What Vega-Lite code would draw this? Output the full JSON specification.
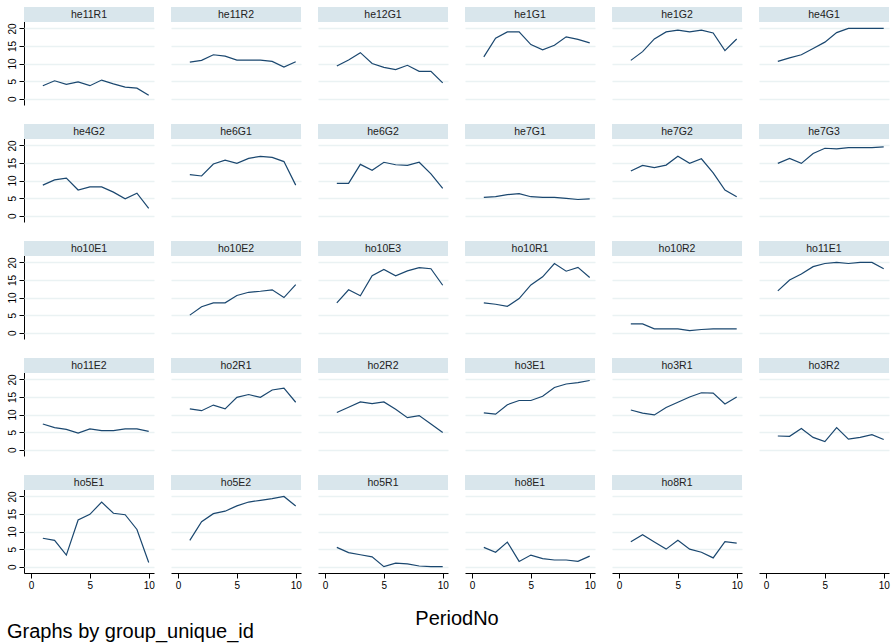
{
  "$schema": "https://vega.github.io/schema/vega-lite/v6.json",
  "background": "white",
  "padding": {"left": 7, "top": 7, "right": 2, "bottom": 2},
  "autosize": {"type": "pad"},
  "data": {"values": [
    {"group":"he11R1","PeriodNo":1,"value":3.7},{"group":"he11R1","PeriodNo":2,"value":5.1},{"group":"he11R1","PeriodNo":3,"value":4.1},{"group":"he11R1","PeriodNo":4,"value":4.8},{"group":"he11R1","PeriodNo":5,"value":3.7},{"group":"he11R1","PeriodNo":6,"value":5.3},{"group":"he11R1","PeriodNo":7,"value":4.2},{"group":"he11R1","PeriodNo":8,"value":3.3},{"group":"he11R1","PeriodNo":9,"value":3.0},{"group":"he11R1","PeriodNo":10,"value":1.0},
    {"group":"he11R2","PeriodNo":1,"value":10.4},{"group":"he11R2","PeriodNo":2,"value":10.9},{"group":"he11R2","PeriodNo":3,"value":12.5},{"group":"he11R2","PeriodNo":4,"value":12.1},{"group":"he11R2","PeriodNo":5,"value":11.0},{"group":"he11R2","PeriodNo":6,"value":11.0},{"group":"he11R2","PeriodNo":7,"value":11.0},{"group":"he11R2","PeriodNo":8,"value":10.6},{"group":"he11R2","PeriodNo":9,"value":9.0},{"group":"he11R2","PeriodNo":10,"value":10.5},
    {"group":"he12G1","PeriodNo":1,"value":9.3},{"group":"he12G1","PeriodNo":2,"value":11.0},{"group":"he12G1","PeriodNo":3,"value":13.1},{"group":"he12G1","PeriodNo":4,"value":10.0},{"group":"he12G1","PeriodNo":5,"value":8.9},{"group":"he12G1","PeriodNo":6,"value":8.3},{"group":"he12G1","PeriodNo":7,"value":9.5},{"group":"he12G1","PeriodNo":8,"value":7.8},{"group":"he12G1","PeriodNo":9,"value":7.8},{"group":"he12G1","PeriodNo":10,"value":4.5},
    {"group":"he1G1","PeriodNo":1,"value":11.9},{"group":"he1G1","PeriodNo":2,"value":17.2},{"group":"he1G1","PeriodNo":3,"value":19.0},{"group":"he1G1","PeriodNo":4,"value":19.0},{"group":"he1G1","PeriodNo":5,"value":15.4},{"group":"he1G1","PeriodNo":6,"value":13.9},{"group":"he1G1","PeriodNo":7,"value":15.2},{"group":"he1G1","PeriodNo":8,"value":17.6},{"group":"he1G1","PeriodNo":9,"value":16.9},{"group":"he1G1","PeriodNo":10,"value":15.9},
    {"group":"he1G2","PeriodNo":1,"value":10.9},{"group":"he1G2","PeriodNo":2,"value":13.4},{"group":"he1G2","PeriodNo":3,"value":17.0},{"group":"he1G2","PeriodNo":4,"value":19.0},{"group":"he1G2","PeriodNo":5,"value":19.5},{"group":"he1G2","PeriodNo":6,"value":19.0},{"group":"he1G2","PeriodNo":7,"value":19.5},{"group":"he1G2","PeriodNo":8,"value":18.7},{"group":"he1G2","PeriodNo":9,"value":13.7},{"group":"he1G2","PeriodNo":10,"value":17.0},
    {"group":"he4G1","PeriodNo":1,"value":10.6},{"group":"he4G1","PeriodNo":2,"value":11.6},{"group":"he4G1","PeriodNo":3,"value":12.5},{"group":"he4G1","PeriodNo":4,"value":14.3},{"group":"he4G1","PeriodNo":5,"value":16.1},{"group":"he4G1","PeriodNo":6,"value":18.8},{"group":"he4G1","PeriodNo":7,"value":20.0},{"group":"he4G1","PeriodNo":8,"value":20.0},{"group":"he4G1","PeriodNo":9,"value":20.0},{"group":"he4G1","PeriodNo":10,"value":20.0},
    {"group":"he4G2","PeriodNo":1,"value":8.7},{"group":"he4G2","PeriodNo":2,"value":10.2},{"group":"he4G2","PeriodNo":3,"value":10.7},{"group":"he4G2","PeriodNo":4,"value":7.3},{"group":"he4G2","PeriodNo":5,"value":8.2},{"group":"he4G2","PeriodNo":6,"value":8.2},{"group":"he4G2","PeriodNo":7,"value":6.7},{"group":"he4G2","PeriodNo":8,"value":4.8},{"group":"he4G2","PeriodNo":9,"value":6.4},{"group":"he4G2","PeriodNo":10,"value":2.1},
    {"group":"he6G1","PeriodNo":1,"value":11.7},{"group":"he6G1","PeriodNo":2,"value":11.3},{"group":"he6G1","PeriodNo":3,"value":14.7},{"group":"he6G1","PeriodNo":4,"value":15.8},{"group":"he6G1","PeriodNo":5,"value":14.9},{"group":"he6G1","PeriodNo":6,"value":16.3},{"group":"he6G1","PeriodNo":7,"value":16.9},{"group":"he6G1","PeriodNo":8,"value":16.6},{"group":"he6G1","PeriodNo":9,"value":15.4},{"group":"he6G1","PeriodNo":10,"value":8.7},
    {"group":"he6G2","PeriodNo":1,"value":9.2},{"group":"he6G2","PeriodNo":2,"value":9.2},{"group":"he6G2","PeriodNo":3,"value":14.6},{"group":"he6G2","PeriodNo":4,"value":12.9},{"group":"he6G2","PeriodNo":5,"value":15.2},{"group":"he6G2","PeriodNo":6,"value":14.5},{"group":"he6G2","PeriodNo":7,"value":14.3},{"group":"he6G2","PeriodNo":8,"value":15.2},{"group":"he6G2","PeriodNo":9,"value":11.9},{"group":"he6G2","PeriodNo":10,"value":7.8},
    {"group":"he7G1","PeriodNo":1,"value":5.2},{"group":"he7G1","PeriodNo":2,"value":5.4},{"group":"he7G1","PeriodNo":3,"value":6.0},{"group":"he7G1","PeriodNo":4,"value":6.3},{"group":"he7G1","PeriodNo":5,"value":5.4},{"group":"he7G1","PeriodNo":6,"value":5.2},{"group":"he7G1","PeriodNo":7,"value":5.2},{"group":"he7G1","PeriodNo":8,"value":4.9},{"group":"he7G1","PeriodNo":9,"value":4.6},{"group":"he7G1","PeriodNo":10,"value":4.8},
    {"group":"he7G2","PeriodNo":1,"value":12.7},{"group":"he7G2","PeriodNo":2,"value":14.3},{"group":"he7G2","PeriodNo":3,"value":13.7},{"group":"he7G2","PeriodNo":4,"value":14.4},{"group":"he7G2","PeriodNo":5,"value":16.9},{"group":"he7G2","PeriodNo":6,"value":14.9},{"group":"he7G2","PeriodNo":7,"value":16.2},{"group":"he7G2","PeriodNo":8,"value":12.2},{"group":"he7G2","PeriodNo":9,"value":7.3},{"group":"he7G2","PeriodNo":10,"value":5.4},
    {"group":"he7G3","PeriodNo":1,"value":14.9},{"group":"he7G3","PeriodNo":2,"value":16.3},{"group":"he7G3","PeriodNo":3,"value":14.9},{"group":"he7G3","PeriodNo":4,"value":17.7},{"group":"he7G3","PeriodNo":5,"value":19.2},{"group":"he7G3","PeriodNo":6,"value":19.0},{"group":"he7G3","PeriodNo":7,"value":19.4},{"group":"he7G3","PeriodNo":8,"value":19.4},{"group":"he7G3","PeriodNo":9,"value":19.4},{"group":"he7G3","PeriodNo":10,"value":19.6},
    {"group":"ho10E1","PeriodNo":null,"value":null},
    {"group":"ho10E2","PeriodNo":1,"value":5.0},{"group":"ho10E2","PeriodNo":2,"value":7.4},{"group":"ho10E2","PeriodNo":3,"value":8.5},{"group":"ho10E2","PeriodNo":4,"value":8.5},{"group":"ho10E2","PeriodNo":5,"value":10.6},{"group":"ho10E2","PeriodNo":6,"value":11.5},{"group":"ho10E2","PeriodNo":7,"value":11.8},{"group":"ho10E2","PeriodNo":8,"value":12.2},{"group":"ho10E2","PeriodNo":9,"value":10.0},{"group":"ho10E2","PeriodNo":10,"value":13.7},
    {"group":"ho10E3","PeriodNo":1,"value":8.5},{"group":"ho10E3","PeriodNo":2,"value":12.2},{"group":"ho10E3","PeriodNo":3,"value":10.5},{"group":"ho10E3","PeriodNo":4,"value":16.2},{"group":"ho10E3","PeriodNo":5,"value":18.0},{"group":"ho10E3","PeriodNo":6,"value":16.2},{"group":"ho10E3","PeriodNo":7,"value":17.6},{"group":"ho10E3","PeriodNo":8,"value":18.5},{"group":"ho10E3","PeriodNo":9,"value":18.2},{"group":"ho10E3","PeriodNo":10,"value":13.5},
    {"group":"ho10R1","PeriodNo":1,"value":8.5},{"group":"ho10R1","PeriodNo":2,"value":8.1},{"group":"ho10R1","PeriodNo":3,"value":7.5},{"group":"ho10R1","PeriodNo":4,"value":9.7},{"group":"ho10R1","PeriodNo":5,"value":13.6},{"group":"ho10R1","PeriodNo":6,"value":15.9},{"group":"ho10R1","PeriodNo":7,"value":19.7},{"group":"ho10R1","PeriodNo":8,"value":17.5},{"group":"ho10R1","PeriodNo":9,"value":18.6},{"group":"ho10R1","PeriodNo":10,"value":15.7},
    {"group":"ho10R2","PeriodNo":1,"value":2.5},{"group":"ho10R2","PeriodNo":2,"value":2.5},{"group":"ho10R2","PeriodNo":3,"value":1.1},{"group":"ho10R2","PeriodNo":4,"value":1.1},{"group":"ho10R2","PeriodNo":5,"value":1.1},{"group":"ho10R2","PeriodNo":6,"value":0.6},{"group":"ho10R2","PeriodNo":7,"value":0.9},{"group":"ho10R2","PeriodNo":8,"value":1.1},{"group":"ho10R2","PeriodNo":9,"value":1.1},{"group":"ho10R2","PeriodNo":10,"value":1.1},
    {"group":"ho11E1","PeriodNo":1,"value":11.9},{"group":"ho11E1","PeriodNo":2,"value":15.0},{"group":"ho11E1","PeriodNo":3,"value":16.7},{"group":"ho11E1","PeriodNo":4,"value":18.8},{"group":"ho11E1","PeriodNo":5,"value":19.7},{"group":"ho11E1","PeriodNo":6,"value":20.0},{"group":"ho11E1","PeriodNo":7,"value":19.7},{"group":"ho11E1","PeriodNo":8,"value":20.0},{"group":"ho11E1","PeriodNo":9,"value":20.0},{"group":"ho11E1","PeriodNo":10,"value":18.2},
    {"group":"ho11E2","PeriodNo":1,"value":7.3},{"group":"ho11E2","PeriodNo":2,"value":6.3},{"group":"ho11E2","PeriodNo":3,"value":5.8},{"group":"ho11E2","PeriodNo":4,"value":4.7},{"group":"ho11E2","PeriodNo":5,"value":5.9},{"group":"ho11E2","PeriodNo":6,"value":5.4},{"group":"ho11E2","PeriodNo":7,"value":5.4},{"group":"ho11E2","PeriodNo":8,"value":5.9},{"group":"ho11E2","PeriodNo":9,"value":5.9},{"group":"ho11E2","PeriodNo":10,"value":5.2},
    {"group":"ho2R1","PeriodNo":1,"value":11.6},{"group":"ho2R1","PeriodNo":2,"value":11.1},{"group":"ho2R1","PeriodNo":3,"value":12.7},{"group":"ho2R1","PeriodNo":4,"value":11.6},{"group":"ho2R1","PeriodNo":5,"value":14.9},{"group":"ho2R1","PeriodNo":6,"value":15.7},{"group":"ho2R1","PeriodNo":7,"value":14.9},{"group":"ho2R1","PeriodNo":8,"value":17.0},{"group":"ho2R1","PeriodNo":9,"value":17.5},{"group":"ho2R1","PeriodNo":10,"value":13.5},
    {"group":"ho2R2","PeriodNo":1,"value":10.6},{"group":"ho2R2","PeriodNo":2,"value":12.1},{"group":"ho2R2","PeriodNo":3,"value":13.6},{"group":"ho2R2","PeriodNo":4,"value":13.1},{"group":"ho2R2","PeriodNo":5,"value":13.6},{"group":"ho2R2","PeriodNo":6,"value":11.5},{"group":"ho2R2","PeriodNo":7,"value":9.1},{"group":"ho2R2","PeriodNo":8,"value":9.7},{"group":"ho2R2","PeriodNo":9,"value":7.3},{"group":"ho2R2","PeriodNo":10,"value":4.9},
    {"group":"ho3E1","PeriodNo":1,"value":10.5},{"group":"ho3E1","PeriodNo":2,"value":10.1},{"group":"ho3E1","PeriodNo":3,"value":12.8},{"group":"ho3E1","PeriodNo":4,"value":14.0},{"group":"ho3E1","PeriodNo":5,"value":14.0},{"group":"ho3E1","PeriodNo":6,"value":15.2},{"group":"ho3E1","PeriodNo":7,"value":17.7},{"group":"ho3E1","PeriodNo":8,"value":18.7},{"group":"ho3E1","PeriodNo":9,"value":19.1},{"group":"ho3E1","PeriodNo":10,"value":19.7},
    {"group":"ho3R1","PeriodNo":1,"value":11.3},{"group":"ho3R1","PeriodNo":2,"value":10.4},{"group":"ho3R1","PeriodNo":3,"value":9.9},{"group":"ho3R1","PeriodNo":4,"value":12.0},{"group":"ho3R1","PeriodNo":5,"value":13.5},{"group":"ho3R1","PeriodNo":6,"value":15.0},{"group":"ho3R1","PeriodNo":7,"value":16.2},{"group":"ho3R1","PeriodNo":8,"value":16.1},{"group":"ho3R1","PeriodNo":9,"value":13.0},{"group":"ho3R1","PeriodNo":10,"value":15.0},
    {"group":"ho3R2","PeriodNo":1,"value":3.9},{"group":"ho3R2","PeriodNo":2,"value":3.8},{"group":"ho3R2","PeriodNo":3,"value":6.0},{"group":"ho3R2","PeriodNo":4,"value":3.5},{"group":"ho3R2","PeriodNo":5,"value":2.3},{"group":"ho3R2","PeriodNo":6,"value":6.3},{"group":"ho3R2","PeriodNo":7,"value":3.0},{"group":"ho3R2","PeriodNo":8,"value":3.5},{"group":"ho3R2","PeriodNo":9,"value":4.3},{"group":"ho3R2","PeriodNo":10,"value":2.9},
    {"group":"ho5E1","PeriodNo":1,"value":8.1},{"group":"ho5E1","PeriodNo":2,"value":7.5},{"group":"ho5E1","PeriodNo":3,"value":3.3},{"group":"ho5E1","PeriodNo":4,"value":13.3},{"group":"ho5E1","PeriodNo":5,"value":14.9},{"group":"ho5E1","PeriodNo":6,"value":18.4},{"group":"ho5E1","PeriodNo":7,"value":15.2},{"group":"ho5E1","PeriodNo":8,"value":14.8},{"group":"ho5E1","PeriodNo":9,"value":10.6},{"group":"ho5E1","PeriodNo":10,"value":1.2},
    {"group":"ho5E2","PeriodNo":1,"value":7.5},{"group":"ho5E2","PeriodNo":2,"value":12.8},{"group":"ho5E2","PeriodNo":3,"value":15.1},{"group":"ho5E2","PeriodNo":4,"value":15.8},{"group":"ho5E2","PeriodNo":5,"value":17.3},{"group":"ho5E2","PeriodNo":6,"value":18.4},{"group":"ho5E2","PeriodNo":7,"value":18.9},{"group":"ho5E2","PeriodNo":8,"value":19.4},{"group":"ho5E2","PeriodNo":9,"value":20.0},{"group":"ho5E2","PeriodNo":10,"value":17.3},
    {"group":"ho5R1","PeriodNo":1,"value":5.5},{"group":"ho5R1","PeriodNo":2,"value":4.0},{"group":"ho5R1","PeriodNo":3,"value":3.4},{"group":"ho5R1","PeriodNo":4,"value":2.8},{"group":"ho5R1","PeriodNo":5,"value":0.0},{"group":"ho5R1","PeriodNo":6,"value":1.0},{"group":"ho5R1","PeriodNo":7,"value":0.8},{"group":"ho5R1","PeriodNo":8,"value":0.2},{"group":"ho5R1","PeriodNo":9,"value":0.0},{"group":"ho5R1","PeriodNo":10,"value":0.0},
    {"group":"ho8E1","PeriodNo":1,"value":5.5},{"group":"ho8E1","PeriodNo":2,"value":4.1},{"group":"ho8E1","PeriodNo":3,"value":7.0},{"group":"ho8E1","PeriodNo":4,"value":1.5},{"group":"ho8E1","PeriodNo":5,"value":3.3},{"group":"ho8E1","PeriodNo":6,"value":2.3},{"group":"ho8E1","PeriodNo":7,"value":1.9},{"group":"ho8E1","PeriodNo":8,"value":1.9},{"group":"ho8E1","PeriodNo":9,"value":1.5},{"group":"ho8E1","PeriodNo":10,"value":3.0},
    {"group":"ho8R1","PeriodNo":1,"value":7.1},{"group":"ho8R1","PeriodNo":2,"value":9.1},{"group":"ho8R1","PeriodNo":3,"value":7.0},{"group":"ho8R1","PeriodNo":4,"value":5.0},{"group":"ho8R1","PeriodNo":5,"value":7.5},{"group":"ho8R1","PeriodNo":6,"value":5.0},{"group":"ho8R1","PeriodNo":7,"value":4.1},{"group":"ho8R1","PeriodNo":8,"value":2.5},{"group":"ho8R1","PeriodNo":9,"value":7.1},{"group":"ho8R1","PeriodNo":10,"value":6.7}
  ]},
  "facet": {
    "field": "group",
    "type": "nominal",
    "sort": "ascending",
    "title": "PeriodNo",
    "header": {
      "labels": false,
      "labelExpr": "''",
      "labelFontSize": 0,
      "labelPadding": 0,
      "titleOrient": "bottom",
      "titleAnchor": "middle",
      "titleFont": "Liberation Sans",
      "titleFontSize": 20,
      "titleFontWeight": "normal",
      "titleColor": "black",
      "titlePadding": 19
    }
  },
  "columns": 6,
  "spacing": {"column": 17, "row": 19},
  "spec": {
    "width": 130,
    "height": 98,
    "layer": [
      {
        "transform": [{"aggregate": [{"op": "count", "as": "n"}], "groupby": ["group"]}],
        "mark": {"type": "rect", "color": "#d9e6ec"},
        "encoding": {
          "x": {"datum": -0.6, "type": "quantitative"},
          "x2": {"datum": 10.45},
          "y": {"datum": 21.8, "type": "quantitative"},
          "y2": {"datum": 26.1}
        }
      },
      {
        "transform": [{"aggregate": [{"op": "count", "as": "n"}], "groupby": ["group"]}],
        "mark": {"type": "text", "font": "Liberation Sans", "fontSize": 10.5, "color": "#222222", "align": "center", "baseline": "middle"},
        "encoding": {
          "x": {"datum": 4.925, "type": "quantitative"},
          "y": {"datum": 23.95, "type": "quantitative"},
          "text": {"field": "group", "type": "nominal"}
        }
      },
      {
        "mark": {"type": "line", "color": "#1a476f", "strokeWidth": 1.2},
        "encoding": {
          "x": {
            "field": "PeriodNo",
            "type": "quantitative",
            "scale": {"domain": [-0.6, 10.45], "nice": false, "zero": false},
            "axis": {"values": [0, 5, 10], "title": null, "grid": false, "domainColor": "black", "tickColor": "black", "tickSize": 5, "labelFont": "Liberation Sans", "labelFontSize": 10, "labelColor": "black", "labelPadding": 2, "labelFlush": false, "labelOverlap": false}
          },
          "y": {
            "field": "value",
            "type": "quantitative",
            "scale": {"domain": [-1.8, 26.1], "nice": false, "zero": false},
            "axis": {"values": [0, 5, 10, 15, 20], "tickCount": 5, "title": null, "grid": true, "gridColor": "#eaf2f3", "gridWidth": 1.5, "domainColor": "black", "tickColor": "black", "tickSize": 5, "labelFont": "Liberation Sans", "labelFontSize": 10, "labelColor": "black", "labelAngle": 270, "labelAlign": "center", "labelBaseline": "bottom", "labelPadding": 2, "labelFlush": false, "labelOverlap": false, "labelSeparation": 0}
          }
        }
      }
    ]
  },
  "title": {
    "text": "Graphs by group_unique_id",
    "orient": "bottom",
    "anchor": "start",
    "frame": "bounds",
    "font": "Liberation Sans",
    "fontSize": 20,
    "fontWeight": "normal",
    "color": "black",
    "offset": -7
  },
  "config": {
    "view": {"stroke": null},
    "header": {"labels": false},
    "axisY": {"labelOverlap": false}
  }
}
